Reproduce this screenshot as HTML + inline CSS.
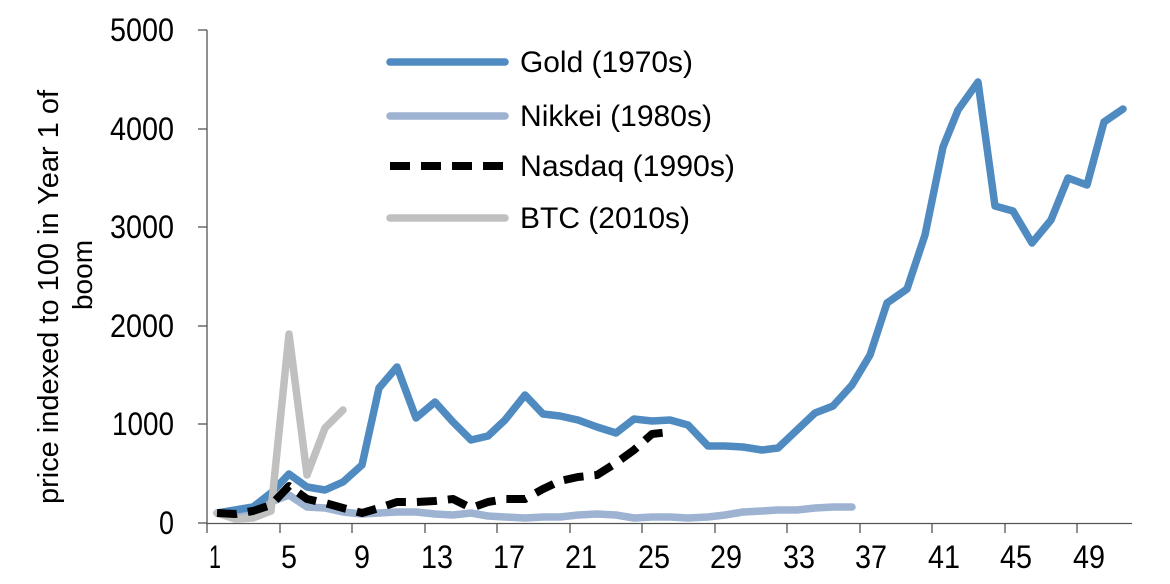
<!DOCTYPE html>
<html><head><meta charset="utf-8"><style>body{margin:0;background:#fff}svg{display:block}text{font-family:"Liberation Sans",Arial,sans-serif;fill:#000}</style></head>
<body>
<svg width="1170" height="584" viewBox="0 0 1170 584">
<g stroke="#555" stroke-width="1.3">
<line x1="207" y1="30" x2="207" y2="524"/>
<line x1="207" y1="523.5" x2="1132" y2="523.5"/>
<line x1="198" y1="30" x2="207" y2="30"/>
<line x1="198" y1="129" x2="207" y2="129"/>
<line x1="198" y1="227" x2="207" y2="227"/>
<line x1="198" y1="326" x2="207" y2="326"/>
<line x1="198" y1="424" x2="207" y2="424"/>
<line x1="198" y1="523" x2="207" y2="523"/>
<line x1="207" y1="523" x2="207" y2="533"/><line x1="280" y1="523" x2="280" y2="533"/><line x1="352" y1="523" x2="352" y2="533"/><line x1="425" y1="523" x2="425" y2="533"/><line x1="497" y1="523" x2="497" y2="533"/><line x1="570" y1="523" x2="570" y2="533"/><line x1="642" y1="523" x2="642" y2="533"/><line x1="715" y1="523" x2="715" y2="533"/><line x1="787" y1="523" x2="787" y2="533"/><line x1="860" y1="523" x2="860" y2="533"/><line x1="932" y1="523" x2="932" y2="533"/><line x1="1005" y1="523" x2="1005" y2="533"/><line x1="1077" y1="523" x2="1077" y2="533"/>
</g>
<g font-size="32">
<text x="110" y="41" textLength="64" lengthAdjust="spacingAndGlyphs">5000</text>
<text x="110" y="140" textLength="64" lengthAdjust="spacingAndGlyphs">4000</text>
<text x="110" y="238" textLength="64" lengthAdjust="spacingAndGlyphs">3000</text>
<text x="110" y="337" textLength="64" lengthAdjust="spacingAndGlyphs">2000</text>
<text x="112" y="435" textLength="62" lengthAdjust="spacingAndGlyphs">1000</text>
<text x="159" y="534" textLength="15" lengthAdjust="spacingAndGlyphs">0</text>
</g>
<g font-size="32">
<text x="209" y="568" textLength="12" lengthAdjust="spacingAndGlyphs">1</text>
<text x="281" y="568" textLength="16" lengthAdjust="spacingAndGlyphs">5</text>
<text x="354" y="568" textLength="16" lengthAdjust="spacingAndGlyphs">9</text>
<text x="421" y="568" textLength="32" lengthAdjust="spacingAndGlyphs">13</text>
<text x="493" y="568" textLength="32" lengthAdjust="spacingAndGlyphs">17</text>
<text x="565" y="568" textLength="32" lengthAdjust="spacingAndGlyphs">21</text>
<text x="638" y="568" textLength="32" lengthAdjust="spacingAndGlyphs">25</text>
<text x="710" y="568" textLength="32" lengthAdjust="spacingAndGlyphs">29</text>
<text x="783" y="568" textLength="32" lengthAdjust="spacingAndGlyphs">33</text>
<text x="855" y="568" textLength="32" lengthAdjust="spacingAndGlyphs">37</text>
<text x="928" y="568" textLength="32" lengthAdjust="spacingAndGlyphs">41</text>
<text x="1000" y="568" textLength="32" lengthAdjust="spacingAndGlyphs">45</text>
<text x="1073" y="568" textLength="32" lengthAdjust="spacingAndGlyphs">49</text>
</g>
<g font-size="29" transform="translate(58,297) rotate(-90)">
<text x="-207" y="0" textLength="414" lengthAdjust="spacingAndGlyphs">price indexed to 100 in Year 1 of</text>
<text x="22" y="34" text-anchor="middle" font-size="28">boom</text>
</g>
<g fill="none" stroke-width="7.5" stroke-linejoin="round" stroke-linecap="round">
<polyline stroke="#9db3d1" points="217,513 235,512 253,510 271,502 289,495 307,507 325,508 343,512 362,514 379,513 397,512 416,512 435,514 453,515 471,513 488,516 505,517 525,518 543,517 560,517 578,515 597,514 616,515 634,518 652,517 670,517 688,518 708,517 725,515 743,512 762,511 778,510 797,510 815,508 833,507 852,507"/>
<polyline stroke="#4f8bc0" points="217,513 235,510 253,507 271,493 289,474 307,487 325,490 343,482 362,465 379,388 397,367 416,418 435,402 453,422 471,440 488,436 505,420 525,395 543,414 560,416 578,420 597,427 616,433 634,419 652,421 670,420 688,425 708,446 725,446 743,447 762,450 778,448 797,430 815,413 833,406 852,385 870,355 887,303 907,289 925,235 943,147 958,110 978,82 995,206 1013,211 1032,243 1051,220 1068,178 1087,185 1104,122 1123,109"/>
<polyline stroke="#c0c0c0" points="217,513 235,519 253,518 271,511 289,334 307,475 325,428 343,410"/>
<polyline stroke="#000" stroke-width="8" stroke-dasharray="20 11" stroke-linecap="butt" points="217,513 235,514 253,511 271,505 289,486 307,499 325,503 343,508 362,513 379,508 397,502 416,502 435,501 453,499 471,508 488,502 505,499 525,499 543,489 560,481 578,477 597,475 616,463 634,450 652,434 670,432"/>
<line x1="390" y1="62" x2="505" y2="62" stroke="#4f8bc0"/>
<line x1="390" y1="116" x2="505" y2="116" stroke="#9db3d1"/>
<line x1="390" y1="166" x2="505" y2="166" stroke="#000" stroke-width="8" stroke-dasharray="20 11" stroke-linecap="butt"/>
<line x1="390" y1="218" x2="505" y2="218" stroke="#c0c0c0"/>
</g>
<g font-size="30">
<text x="520" y="72" textLength="173" lengthAdjust="spacingAndGlyphs">Gold (1970s)</text>
<text x="520" y="126" textLength="192" lengthAdjust="spacingAndGlyphs">Nikkei (1980s)</text>
<text x="520" y="176" textLength="215" lengthAdjust="spacingAndGlyphs">Nasdaq (1990s)</text>
<text x="520" y="228" textLength="170" lengthAdjust="spacingAndGlyphs">BTC (2010s)</text>
</g>
</svg>
</body></html>
